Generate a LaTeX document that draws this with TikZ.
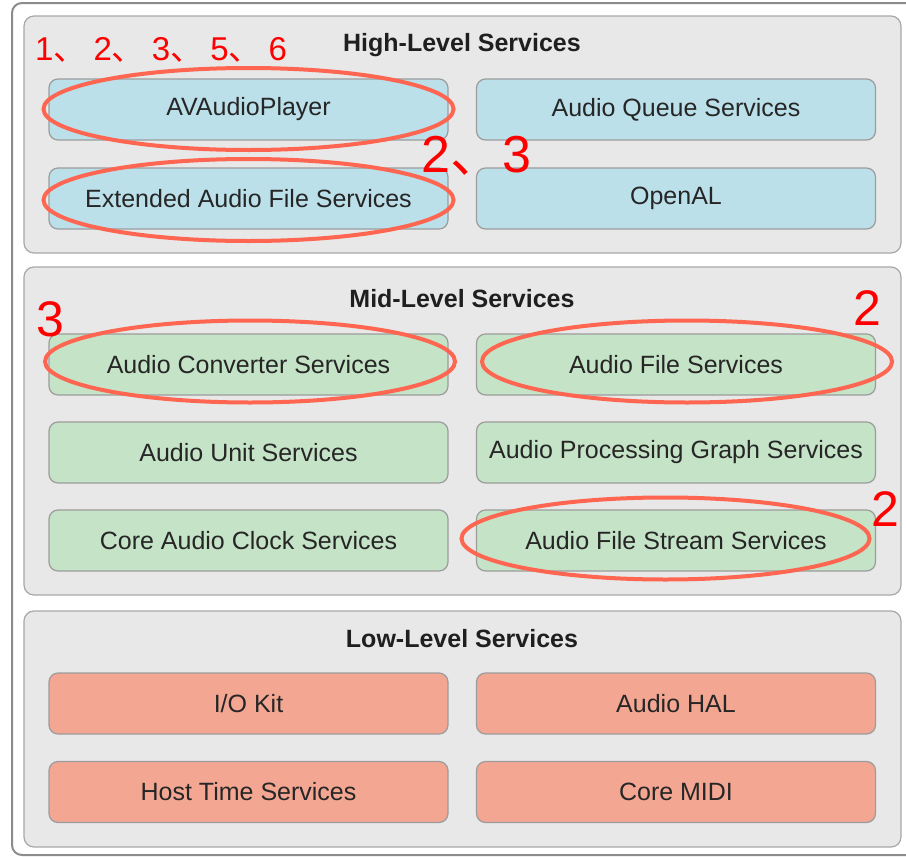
\documentclass[tikz,border=0pt]{standalone}
\usepackage{fontspec}
\setmainfont{Liberation Sans}
\newfontfamily\cjk{Noto Sans CJK SC}
\definecolor{panelfill}{HTML}{E7E8E7}
\definecolor{panelline}{HTML}{A8A8A8}
\definecolor{frameline}{HTML}{8C8C8C}
\definecolor{boxline}{HTML}{9C9C9C}
\definecolor{bluefill}{HTML}{BBE0EA}
\definecolor{greenfill}{HTML}{C5E3C6}
\definecolor{redfill}{HTML}{F3A793}
\definecolor{ringred}{HTML}{FF6652}
\definecolor{annred}{HTML}{FF0000}
\newcommand{\dun}{{\cjk 、}}
\begin{document}
\begin{tikzpicture}[x=1pt,y=-1pt,
  panel/.style={draw=panelline, fill=panelfill, line width=1.2pt, rounded corners=10pt},
  ptitle/.style={font=\fontsize{25}{28}\selectfont\bfseries, text=black!88},
  svc/.style={draw=boxline, line width=1.2pt, rounded corners=9pt, minimum width=399pt,
    minimum height=61pt, inner sep=0pt, font=\fontsize{25}{28}\selectfont, text=black!85},
  hi/.style={svc, fill=bluefill},
  mid/.style={svc, fill=greenfill},
  lo/.style={svc, fill=redfill},
  ring/.style={draw=ringred, line width=4pt},
  ann/.style={text=annred, inner sep=0pt, anchor=base west}]
\useasboundingbox (0,0) rectangle (906,857);
\fill[white] (0,0) rectangle (906,857);
\begin{scope}
\clip (0,0) rectangle (906,857);
\draw[frameline, line width=2pt, rounded corners=10pt] (12,3) rectangle (930,855);
\end{scope}
% panels
\draw[panel] (24,16) rectangle (901,253);
\draw[panel] (24,267) rectangle (901,595);
\draw[panel] (24,611) rectangle (901,847);
\node[ptitle] (thigh) at (462,45) {High-Level Services};
\node[ptitle] (tmid) at (462,299) {Mid-Level Services};
\node[ptitle] (tlow) at (462,639) {Low-Level Services};
% high level
\node[hi] (avp) at (248.5,109.5) {AVAudioPlayer};
\node[hi] (aqs) at (676,109.5) {Audio Queue Services};
\node[hi] (eafs) at (248.5,198.5) {Extended Audio File Services};
\node[hi] (oal) at (676,198.5) {OpenAL};
% mid level
\node[mid] (acs) at (248.5,364.5) {Audio Converter Services};
\node[mid] (afs) at (676,364.5) {Audio File Services};
\node[mid] (aus) at (248.5,452.5) {Audio Unit Services};
\node[mid] (apgs) at (676,452.5) {Audio Processing Graph Services};
\node[mid] (cacs) at (248.5,540.5) {Core Audio Clock Services};
\node[mid] (afss) at (676,540.5) {Audio File Stream Services};
% low level
\node[lo] (iok) at (248.5,703.5) {I/O Kit};
\node[lo] (hal) at (676,703.5) {Audio HAL};
\node[lo] (hts) at (248.5,792) {Host Time Services};
\node[lo] (midi) at (676,792) {Core MIDI};
% rings
\draw[ring] (248.5,109) ellipse [x radius=205pt, y radius=41pt];
\draw[ring] (248.5,200) ellipse [x radius=205pt, y radius=41pt];
\draw[ring] (250,361.5) ellipse [x radius=205pt, y radius=41pt];
\draw[ring] (687,361.5) ellipse [x radius=205pt, y radius=41pt];
\draw[ring] (665.5,538.5) ellipse [x radius=204pt, y radius=41pt];
% annotations
\node[ann, font=\fontsize{33}{36}\selectfont] (a1) at (35,60) {1\dun\kern7pt 2\dun\kern7pt 3\dun\kern7pt 5\dun\kern7pt 6};
\node[ann, font=\fontsize{52}{56}\selectfont] (a2) at (421,172) {2\dun 3};
\node[ann, font=\fontsize{50}{54}\selectfont] (a3) at (36,336) {3};
\node[ann, font=\fontsize{50}{54}\selectfont] (a4) at (853,325) {2};
\node[ann, font=\fontsize{50}{54}\selectfont] (a5) at (871,526) {2};
\end{tikzpicture}
\end{document}
